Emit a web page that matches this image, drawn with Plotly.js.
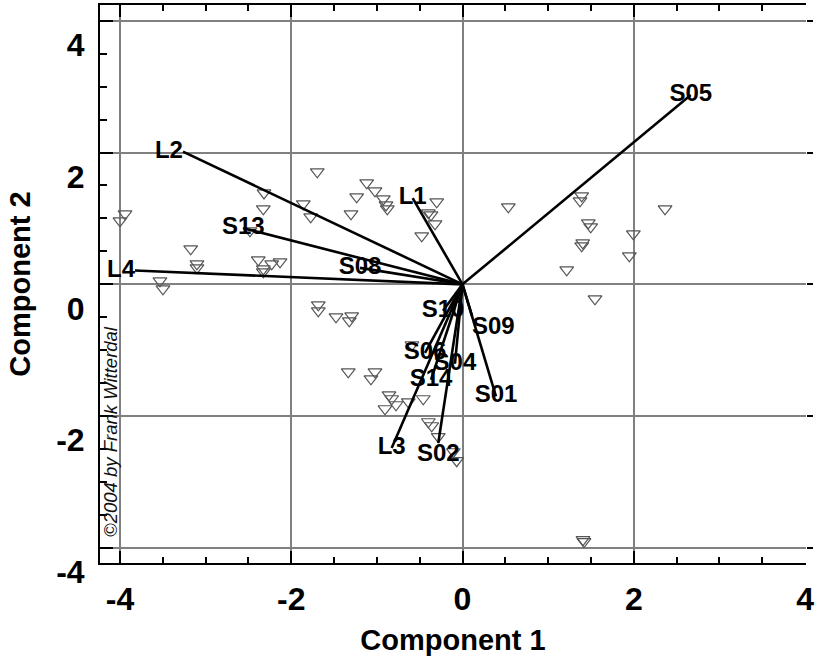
<!DOCTYPE html>
<html>
<head>
<meta charset="utf-8">
<script src="https://cdn.plot.ly/plotly-3.0.1.min.js"></script>
<style>html,body{margin:0;padding:0;background:#fff;}</style>
</head>
<body>
<div id="chart" style="width:817px;height:665px;"></div>
<script>
// ---- data ----
const vecLabels = ['S05','L2','L4','S13','S08','L1','S10','S09','S01','S06','S04','S14','L3','S02'];
const vecX = [2.665, -3.264, -3.824, -2.56, -1.197, -0.582, -0.228, 0.111, 0.391, -0.438, -0.088, -0.368, -0.827, -0.283];
const vecY = [2.872, 2.014, 0.209, 0.852, 0.25, 1.307, -0.40, -0.478, -1.70, -1.039, -1.205, -1.448, -2.484, -2.408];

const obsX = [-3.941,-4.000,-3.533,-3.498,-3.174,-3.101,-3.101,-2.385,-2.326,-2.326,-2.228,-2.131,-2.482,-2.318,-2.326,
  -1.859,-1.773,-1.696,-1.302,-1.236,-1.119,-1.022,-0.925,-0.878,-0.893,-0.301,-0.399,-0.368,-0.321,-0.476,
  0.535,1.392,1.372,2.365,1.469,1.497,1.404,1.392,1.995,1.948,1.217,1.547,
  -1.684,-1.684,-1.477,-1.294,-1.322,-1.334,-1.022,-1.069,-0.858,-0.905,-0.777,-0.633,-0.458,
  -0.399,-0.360,-0.283,-0.107,-0.068,-0.590,1.407,1.419,-0.827];
const obsY = [1.069,0.963,0.053,-0.068,0.538,0.311,0.250,0.371,0.235,0.190,0.311,0.341,0.811,1.387,1.145,
  1.221,1.024,1.706,1.069,1.327,1.539,1.418,1.296,1.145,1.205,1.251,1.084,1.054,0.917,0.735,
  1.175,1.342,1.266,1.145,0.933,0.872,0.629,0.584,0.766,0.432,0.220,-0.220,
  -0.311,-0.402,-0.493,-0.478,-0.553,-1.327,-1.327,-1.433,-1.676,-1.888,-1.827,-1.782,-1.736,
  -2.085,-2.146,-2.312,-2.540,-2.676,-0.917,-3.874,-3.904,-1.736];

const xTickVals = [-4, -2, 0, 2, 4];
const xTickText = ['-4', '-2', '0', '2', '4'];
const yTickVals = [-4, -2, 0, 2, 4];
const yTickText = ['-4', '-2', '0', '2', '4'];

// ---- build traces ----
const FONT = '"Liberation Sans", Arial, sans-serif';
const lineX = [], lineY = [];
vecX.forEach((vx, i) => { lineX.push(0, vx, null); lineY.push(0, vecY[i], null); });
const labelPos = ['middle center','middle left','middle left','middle center','middle center','middle center',
  'middle center','bottom right','middle center','middle center','middle center','middle center',
  'middle center','bottom center'];

const traces = [
  {type:'scatter', mode:'markers', x: obsX, y: obsY, hoverinfo:'skip', showlegend:false,
   marker:{symbol:'triangle-down-open', size:12, color:'#555555', line:{width:1.2, color:'#555555'}}},
  {type:'scatter', mode:'lines', x: lineX, y: lineY, hoverinfo:'skip', showlegend:false,
   line:{color:'#000000', width:2.6}},
  {type:'scatter', mode:'text', x: vecX, y: vecY, text: vecLabels, textposition: labelPos,
   hoverinfo:'skip', showlegend:false,
   textfont:{family: FONT, size: 24, color:'#000000', weight:'bold'}},
  {type:'scatter', mode:'markers', x: [], y: [], yaxis:'y2', hoverinfo:'skip', showlegend:false}
];

const yRange = [-4.228, 4.238];
const layout = {
  width: 817, height: 665,
  margin: {l: 100, r: 11, t: 5, b: 102, pad: 0},
  paper_bgcolor: '#ffffff', plot_bgcolor: '#ffffff',
  showlegend: false,
  font: {family: FONT, color: '#000000'},
  xaxis: {
    range: [-4.233, 4.011], tickmode: 'array', tickvals: xTickVals, ticktext: xTickText,
    showgrid: true, gridcolor: '#808080', gridwidth: 2, zeroline: false,
    showline: true, linecolor: '#000000', linewidth: 2, mirror: 'ticks',
    ticks: 'inside', ticklen: 12, tickwidth: 2, tickcolor: '#000000',
    minor: {tickmode: 'linear', tick0: 0, dtick: 0.5, ticks: 'inside', ticklen: 6, tickwidth: 2, tickcolor: '#000000', showgrid: false},
    tickfont: {family: FONT, size: 32, color: '#000000', weight: 'bold'},
    ticklabelstandoff: 7,
    title: {text: 'Component 1', font: {family: FONT, size: 29, color: '#000000', weight: 'bold'}, standoff: 13},
    fixedrange: true
  },
  yaxis: {
    range: yRange, tickmode: 'array', tickvals: yTickVals, ticktext: yTickText,
    showgrid: true, gridcolor: '#808080', gridwidth: 2, zeroline: false,
    showline: true, linecolor: '#000000', linewidth: 2, mirror: false,
    ticks: 'inside', ticklen: 13, tickwidth: 2, tickcolor: '#000000',
    minor: {tickmode: 'linear', tick0: 0, dtick: 0.5, ticks: 'inside', ticklen: 7, tickwidth: 2, tickcolor: '#000000', showgrid: false},
    tickfont: {family: FONT, size: 32, color: '#000000', weight: 'bold'},
    ticklabelstandoff: 7, ticklabelshift: 24,
    title: {text: 'Component 2', font: {family: FONT, size: 29, color: '#000000', weight: 'bold'}, standoff: 17},
    fixedrange: true
  },
  yaxis2: {
    overlaying: 'y', side: 'right', anchor: 'x', range: yRange, tickmode: 'array', tickvals: yTickVals,
    showticklabels: false, showgrid: false, zeroline: false, showline: false,
    ticks: 'outside', ticklen: 6, tickwidth: 2, tickcolor: '#000000', fixedrange: true
  },
  annotations: [{
    text: '\u00a92004 by Frank Witterdal', xref: 'paper', yref: 'paper', x: 0.0156, y: 0.235,
    xanchor: 'center', yanchor: 'middle', textangle: -90, showarrow: false,
    font: {family: FONT, size: 18.5, style: 'italic', color: '#111111'}
  }]
};

Plotly.newPlot('chart', traces, layout, {staticPlot: true, displayModeBar: false});
</script>
</body>
</html>
